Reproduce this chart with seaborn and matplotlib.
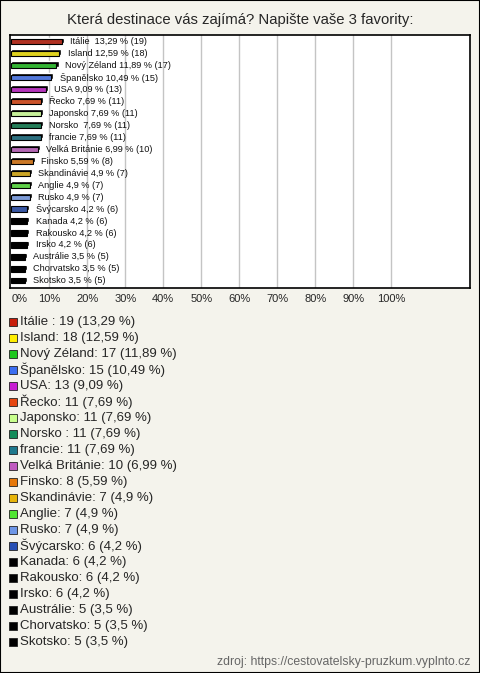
import seaborn as sns
import matplotlib.pyplot as plt
import pandas as pd
from matplotlib.patches import Rectangle

# data
names = ["Itálie ", "Island", "Nový Zéland", "Španělsko", "USA", "Řecko", "Japonsko",
         "Norsko ", "francie", "Velká Británie", "Finsko", "Skandinávie", "Anglie",
         "Rusko", "Švýcarsko", "Kanada", "Rakousko", "Irsko", "Austrálie",
         "Chorvatsko", "Skotsko"]
counts = [19, 18, 17, 15, 13, 11, 11, 11, 11, 10, 8, 7, 7, 7, 6, 6, 6, 6, 5, 5, 5]
pct_labels = ["13,29", "12,59", "11,89", "10,49", "9,09", "7,69", "7,69", "7,69", "7,69",
              "6,99", "5,59", "4,9", "4,9", "4,9", "4,2", "4,2", "4,2", "4,2", "3,5",
              "3,5", "3,5"]
percents = [13.29, 12.59, 11.89, 10.49, 9.09, 7.69, 7.69, 7.69, 7.69, 6.99, 5.59,
            4.9, 4.9, 4.9, 4.2, 4.2, 4.2, 4.2, 3.5, 3.5, 3.5]
colors = ["#c81e0a", "#ffee00", "#1ec81e", "#3c6ef0", "#c81ed2", "#e6460f", "#c8ff8c",
          "#148c5a", "#1e788c", "#c05ac0", "#e6780a", "#e6b40a", "#50e632", "#6e96e6",
          "#2850b4", "#000000", "#000000", "#000000", "#000000", "#000000", "#000000"]
ticks = [0, 10, 20, 30, 40, 50, 60, 70, 80, 90, 100]
title = "Která destinace vás zajímá? Napište vaše 3 favority:"
source = "zdroj: https://cestovatelsky-pruzkum.vyplnto.cz"

df = pd.DataFrame({"name": names, "pct": percents})

sns.set_style("white")
plt.rcParams['font.family'] = ['Liberation Sans', 'DejaVu Sans']

W, H = 480, 673
bg = "#f4f3ec"
fig = plt.figure(figsize=(W / 100, H / 100), dpi=100, facecolor=bg)
fig.patches.append(Rectangle((0, 0), 1, 1, transform=fig.transFigure, fill=False,
                             edgecolor="black", linewidth=1.5))

ax = fig.add_axes([10 / W, 1 - 288 / H, 460 / W, 253 / H])
ax.set_facecolor("white")

# 3D-ish depth behind each bar
ypos = list(range(len(names)))
ax.barh([y - 0.13 for y in ypos], [p + 0.55 for p in percents], height=0.44,
        left=0, color="black", zorder=2)
sns.barplot(data=df, x="pct", y="name", hue="name", palette=colors, orient="h",
            width=0.44, edgecolor="black", linewidth=0.8, legend=False, ax=ax, zorder=3)

for i, (n, p, c) in enumerate(zip(names, pct_labels, counts)):
    ax.text(percents[i] + 2.2, i, f"{n} {p} % ({c})", va="center", ha="left",
            fontsize=6.6, color="#111111", zorder=4)

ax.set_xlim(-0.34, 120.7)
ax.set_ylim(20.6, -0.56)
ax.set_xticks(ticks)
ax.set_xticklabels([f"{t}%" for t in ticks], fontsize=8)
ax.get_xticklabels()[0].set_ha("left")
ax.set_yticks([])
ax.set_xlabel("")
ax.set_ylabel("")
for t in ticks[1:]:
    ax.axvline(t, color="#c4c4c4", linewidth=1, zorder=1)
ax.tick_params(axis="x", length=0, pad=4)
for s in ax.spines.values():
    s.set_visible(True)
    s.set_color("black")
    s.set_linewidth(1.2)

fig.text(0.5, 1 - 20 / H, title, ha="center", va="center", fontsize=10.7)

# legend
for i, (n, c, p, col) in enumerate(zip(names, counts, pct_labels, colors)):
    yc = 321.7 + 16 * i
    fig.patches.append(Rectangle((9 / W, 1 - (yc + 4) / H), 8 / W, 8 / H,
                                 transform=fig.transFigure, facecolor=col,
                                 edgecolor="#222222", linewidth=0.6))
    fig.text(20 / W, 1 - yc / H, f"{n}: {c} ({p} %)",
             ha="left", va="center", fontsize=9.5)

fig.text(470 / W, 1 - 662 / H, source, ha="right", va="center", fontsize=8.8,
         color="#666666")

fig.savefig("out.png", dpi=100, facecolor=bg)
